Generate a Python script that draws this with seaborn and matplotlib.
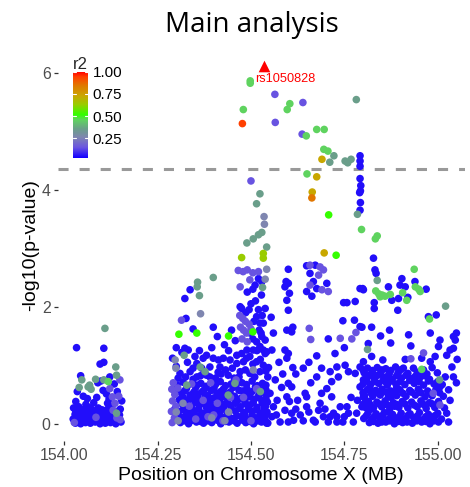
import numpy as np
import pandas as pd
import matplotlib
matplotlib.use("Agg")
import matplotlib.pyplot as plt
from matplotlib.colors import LinearSegmentedColormap, Normalize
from matplotlib.cm import ScalarMappable
import seaborn as sns

# ---------------- data (position in MB, -log10 p) grouped by LD class ----------------
r2_levels = {"blue": 0.02, "violet": 0.12, "slate": 0.24, "sage": 0.33, "lime": 0.44,
             "green": 0.50, "ygreen": 0.62, "gold": 0.72, "orange": 0.84, "redorange": 0.94}

lead_pos, lead_logp, lead_name = 154.536, 6.11, "rs1050828"
threshold = 4.35

left_blue = [(154.033,1.30),(154.106,1.29),(154.096,1.02),(154.106,1.05),(154.044,0.82),(154.098,0.73),
    (154.122,0.80),(154.134,0.68),(154.035,0.55),(154.051,0.47),(154.113,0.51),(154.116,0.35),(154.154,0.39),
    (154.031,0.38),(154.104,0.57),(154.090,0.70),(154.142,0.55),(154.120,0.42),(154.058,0.33),(154.079,0.36),
    (154.127,0.30),(154.062,0.43),(154.087,0.45),
    (154.025,0.27),(154.039,0.29),(154.052,0.24),(154.066,0.28),(154.078,0.22),(154.091,0.27),(154.104,0.23),
    (154.118,0.26),(154.139,0.21),(154.150,0.25),
    (154.029,0.16),(154.043,0.19),(154.055,0.13),(154.068,0.17),(154.081,0.14),(154.094,0.18),(154.108,0.12),
    (154.122,0.16),(154.135,0.13),(154.148,0.15),
    (154.024,0.08),(154.037,0.06),(154.050,0.09),(154.062,0.05),(154.075,0.08),(154.088,0.07),(154.101,0.04),
    (154.115,0.09),(154.128,0.06),(154.143,0.08),(154.152,0.03),
    (154.030,0.01),(154.044,0.00),(154.057,0.02),(154.070,0.01),(154.083,0.03),(154.096,0.00),(154.110,0.01),
    (154.124,0.02),(154.138,0.00),
    (154.031,0.22),(154.046,0.24),(154.060,0.20),(154.073,0.25),(154.086,0.21),(154.099,0.24),(154.112,0.19),
    (154.126,0.23),(154.145,0.19),(154.034,0.11),(154.048,0.13),(154.060,0.10),(154.072,0.12),(154.086,0.11),
    (154.098,0.13),(154.112,0.10),(154.125,0.12),(154.140,0.14)]
left_violet = [(154.149,0.75),(154.122,0.60),(154.129,0.46),(154.136,0.35),(154.131,0.23),(154.027,0.02),
    (154.150,0.07),(154.085,0.11),(154.146,0.47),(154.141,0.10)]
left_sage = [(154.109,1.63),(154.138,0.97),(154.140,0.83),(154.047,0.75),(154.040,0.62),(154.064,0.63),
    (154.072,0.59),(154.084,0.76),(154.106,0.75),(154.068,0.66),(154.140,0.18)]

mid_blue = [(154.337,2.29),(154.323,2.14),(154.326,1.80),(154.345,1.62),(154.300,1.30),(154.323,1.29),
    (154.332,1.26),(154.315,1.22),(154.350,1.15),(154.362,1.25),(154.290,1.12),(154.399,1.65),(154.410,1.49),
    (154.429,1.35),(154.448,1.60),(154.471,2.00),(154.475,1.97),(154.372,1.12),(154.381,1.17),(154.399,1.12),
    (154.413,1.09),(154.426,1.12),(154.355,1.03),(154.368,0.95),(154.390,0.97),(154.417,0.97),(154.444,1.09),
    (154.462,1.17),(154.475,1.20),(154.489,1.26),(154.506,1.26),(154.524,1.32),(154.538,1.20),(154.497,1.15),
    (154.462,1.03),(154.480,1.06),(154.515,1.06),(154.533,1.00),(154.310,0.86),(154.337,0.89),(154.381,0.83),
    (154.439,0.83),(154.471,0.89),(154.497,0.86),(154.524,0.89),(154.300,0.98),(154.355,0.80),(154.405,0.78),
    (154.420,0.85),(154.455,0.78),(154.510,0.80),
    (154.520,2.48),(154.529,2.43),(154.511,2.37),(154.515,1.83),(154.524,1.72),(154.538,1.97),(154.554,1.82),
    (154.533,1.72),(154.529,1.49),(154.538,1.43),(154.533,1.26),(154.542,1.23),(154.547,0.96),(154.556,1.26),
    (154.505,1.45),(154.495,1.95),(154.512,2.10),(154.528,2.20),(154.522,1.60),(154.515,1.40),(154.490,2.25),
    (154.505,2.30),(154.500,2.05),(154.520,1.95),(154.486,1.90),(154.530,1.85),(154.508,1.75),(154.498,1.55),
    (154.527,1.55),(154.516,1.25),
    (154.305,0.78),(154.325,0.80),(154.345,0.76),(154.365,0.82),(154.390,0.80),(154.412,0.88),(154.432,0.92),
    (154.450,0.95),(154.468,0.80),(154.485,0.92),(154.505,1.02),(154.525,1.10),(154.545,0.80),(154.330,1.05),
    (154.345,0.95),(154.395,1.30),(154.440,1.25),(154.458,1.42),(154.488,1.12),(154.540,0.90)]
mid_bottom_blue = [(154.318,0.71),(154.366,0.69),(154.418,0.72),(154.447,0.68),(154.476,0.70),(154.503,0.73),
    (154.531,0.69),(154.327,0.60),(154.352,0.62),(154.375,0.58),(154.401,0.61),(154.426,0.59),(154.452,0.62),
    (154.468,0.57),(154.489,0.60),(154.512,0.63),(154.540,0.58),(154.314,0.52),(154.337,0.49),(154.359,0.51),
    (154.384,0.48),(154.409,0.52),(154.434,0.50),(154.456,0.47),(154.493,0.51),(154.521,0.49),(154.536,0.53),
    (154.308,0.41),(154.325,0.39),(154.346,0.42),(154.368,0.38),(154.388,0.40),(154.413,0.43),(154.438,0.39),
    (154.466,0.41),(154.484,0.38),(154.509,0.42),(154.529,0.40),(154.544,0.37),(154.321,0.31),(154.340,0.28),
    (154.361,0.32),(154.380,0.29),(154.398,0.30),(154.422,0.27),(154.445,0.31),(154.471,0.29),(154.497,0.32),
    (154.516,0.28),(154.539,0.30),(154.306,0.21),(154.330,0.19),(154.349,0.22),(154.371,0.18),(154.392,0.21),
    (154.416,0.20),(154.437,0.17),(154.458,0.22),(154.481,0.19),(154.503,0.21),(154.525,0.18),(154.543,0.20),
    (154.316,0.11),(154.336,0.09),(154.357,0.12),(154.377,0.08),(154.404,0.10),(154.427,0.11),(154.449,0.09),
    (154.474,0.12),(154.491,0.08),(154.513,0.10),(154.534,0.11),(154.311,0.02),(154.333,0.00),(154.354,0.03),
    (154.373,0.01),(154.395,0.02),(154.419,0.00),(154.441,0.03),(154.463,0.01),(154.486,0.02),(154.507,0.00),
    (154.528,0.03),(154.545,0.01),
    (154.302,0.66),(154.330,0.65),(154.355,0.66),(154.380,0.64),(154.405,0.67),(154.432,0.65),(154.460,0.66),
    (154.488,0.67),(154.517,0.65),(154.540,0.66),(154.300,0.55),(154.322,0.56),(154.347,0.54),(154.370,0.55),
    (154.394,0.57),(154.419,0.55),(154.444,0.54),(154.478,0.56),(154.503,0.55),(154.528,0.57),(154.318,0.45),
    (154.336,0.44),(154.357,0.46),(154.377,0.45),(154.400,0.44),(154.426,0.46),(154.451,0.45),(154.474,0.44),
    (154.497,0.46),(154.520,0.45),(154.540,0.44),(154.313,0.35),(154.332,0.34),(154.352,0.36),(154.372,0.35),
    (154.392,0.34),(154.418,0.36),(154.430,0.33),(154.458,0.35),(154.484,0.34),(154.506,0.36),(154.530,0.35),
    (154.296,0.25),(154.318,0.24),(154.341,0.26),(154.360,0.25),(154.383,0.24),(154.405,0.26),(154.427,0.25),
    (154.448,0.24),(154.470,0.26),(154.493,0.25),(154.515,0.24),(154.535,0.26),(154.305,0.15),(154.326,0.14),
    (154.345,0.16),(154.366,0.15),(154.388,0.14),(154.415,0.16),(154.438,0.15),(154.462,0.14),(154.483,0.16),
    (154.503,0.15),(154.524,0.14),(154.542,0.16),(154.322,0.05),(154.344,0.06),(154.365,0.04),(154.385,0.05),
    (154.410,0.06),(154.432,0.04),(154.455,0.05),(154.478,0.06),(154.497,0.04),(154.518,0.05),(154.538,0.06)]
mid_violet = [(154.292,0.70),(154.341,0.68),(154.392,0.70),(154.288,0.59),(154.304,0.61),(154.296,0.50),
    (154.290,0.39),(154.299,0.30),(154.287,0.21),(154.295,0.10),(154.289,0.02),(154.400,0.15),(154.425,0.05),
    (154.410,0.35),(154.385,0.12),(154.445,0.45),(154.460,0.75),(154.480,0.45),(154.500,0.05),(154.515,0.60),
    (154.335,0.30),(154.352,0.08),(154.372,0.40),
    (154.466,2.62),(154.479,2.60),(154.490,2.63),(154.505,2.58),(154.520,2.60),(154.497,2.46),(154.471,2.34),
    (154.470,1.85),(154.478,1.80),(154.485,1.75),(154.472,1.65),(154.480,1.60),(154.488,1.55),(154.476,1.45),
    (154.490,1.40),(154.495,1.70),(154.500,1.62),(154.314,1.77)]
mid_slate = [(154.297,1.09),(154.299,0.95),(154.506,0.92),(154.300,0.20),(154.305,0.05),(154.318,0.35),
    (154.395,0.10),(154.430,0.05),(154.440,0.20),(154.535,3.54),(154.536,3.41),(154.542,2.64),(154.538,2.47),
    (154.365,1.88)]

east_blue = [(154.600,2.64),(154.594,2.43),(154.600,2.40),(154.591,2.34),(154.603,2.23),(154.596,2.11),
    (154.600,1.94),(154.596,1.60),(154.612,1.65),(154.609,1.57),(154.591,1.26),(154.600,1.20),(154.596,1.12),
    (154.612,0.96),(154.560,1.55),(154.575,1.05),(154.585,0.85),(154.565,0.75),(154.620,0.85),
    (154.649,2.70),(154.672,2.71),(154.658,2.57),(154.667,2.43),(154.676,2.31),(154.703,2.40),(154.649,2.26),
    (154.663,2.18),(154.676,1.16),(154.707,1.45),(154.748,2.07),(154.757,2.07),(154.746,1.76),(154.777,1.77),
    (154.792,1.66),(154.779,2.09),(154.640,0.95),(154.655,1.05),(154.725,1.20),(154.750,1.30),
    (154.792,4.58),(154.792,4.49),(154.792,4.40),(154.792,4.19),(154.794,4.07),(154.793,3.98),(154.791,3.95),
    (154.793,3.78),(154.792,3.65),(154.828,2.83),(154.832,2.63),(154.835,2.57),(154.799,2.31),(154.792,2.31),
    (154.830,2.07),(154.830,1.97),(154.801,2.29),
    (154.689,0.95),(154.712,0.89),(154.730,0.97),(154.752,1.00),(154.761,0.89),(154.734,0.80),(154.716,0.72),
    (154.703,0.60),(154.689,0.52),(154.685,0.35),(154.681,0.23),(154.716,0.46),(154.739,0.29),(154.730,0.12),
    (154.757,0.29),(154.761,0.18),(154.730,0.03),(154.694,0.12),(154.672,0.03),(154.649,0.46),(154.645,0.52),
    (154.667,0.06),(154.707,0.03),(154.774,0.03),(154.792,0.63),(154.801,0.46),(154.797,0.29),(154.783,0.18),
    (154.779,0.86),(154.792,0.97),(154.801,0.75),(154.746,0.03),(154.721,0.18),(154.649,0.29),(154.600,0.69),
    (154.609,0.63),(154.596,0.46),(154.603,0.38),(154.591,0.23),(154.609,0.18),(154.578,0.03),(154.600,0.03),
    (154.614,0.06),(154.551,0.52),(154.538,0.35),(154.529,0.18),(154.556,0.12),(154.542,0.01),(154.560,0.29),
    (154.570,0.40),(154.582,0.62),(154.625,0.40),(154.632,0.15),(154.640,0.05),(154.655,0.20),(154.660,0.70),
    (154.676,0.80),(154.698,0.25),(154.712,0.12),(154.750,0.12),(154.768,0.45),(154.785,0.40),(154.620,0.25),
    (154.568,0.15)]
east_violet = [(154.658,2.71),(154.685,2.68),(154.694,2.63),(154.681,2.54),(154.658,2.37),(154.690,2.29),
    (154.707,2.26),(154.656,1.63),(154.660,1.44),(154.739,1.46),(154.770,1.45),(154.781,1.56),
    (154.564,5.63),(154.565,5.15),(154.639,5.49),(154.637,4.95),(154.500,4.15)]

far_blue = [(154.904,2.48),(154.939,2.43),(154.899,2.37),(154.913,2.34),(154.868,2.34),(154.877,2.11),
    (154.895,2.14),(154.920,2.16),(154.969,2.30),(154.893,1.94),(154.975,1.83),(154.996,1.86),(154.797,1.65),
    (154.823,1.65),(154.871,1.60),(154.847,1.50),(154.874,1.38),(154.922,1.52),(154.928,1.33),(154.980,1.55),
    (155.006,1.43),(155.042,1.49),(155.047,1.43),(155.033,1.26),(155.042,1.29),(155.002,1.32),(155.024,1.17),
    (154.993,1.15),(154.980,1.06),(154.957,1.12),(154.913,1.10),(154.814,1.37),(154.823,1.15),(154.801,1.06),
    (154.853,1.09),(154.908,0.95),(154.962,0.92),(155.038,0.97),(155.042,0.80),(155.020,0.80),(155.006,0.63),
    (155.029,0.58),(155.033,0.40),(155.024,0.18),(155.002,0.03),(155.029,0.03),(155.050,1.55),(155.052,1.10),
    (155.050,0.70),
    (154.812,0.95),(154.838,0.96),(154.861,0.94),(154.887,0.97),(154.935,0.95),(154.985,0.96),
    (154.803,0.87),(154.825,0.86),(154.848,0.88),(154.870,0.85),(154.894,0.87),(154.920,0.86),(154.945,0.88),
    (154.971,0.85),(154.999,0.87),(154.808,0.78),(154.830,0.77),(154.856,0.79),(154.878,0.76),(154.903,0.78),
    (154.930,0.77),(154.952,0.79),(154.978,0.76),(154.800,0.68),(154.820,0.67),(154.842,0.69),(154.865,0.66),
    (154.888,0.68),(154.912,0.67),(154.937,0.69),(154.962,0.66),(154.990,0.68),(155.012,0.67),(154.811,0.58),
    (154.834,0.57),(154.851,0.59),(154.874,0.56),(154.899,0.58),(154.925,0.57),(154.948,0.59),(154.973,0.56),
    (154.995,0.58),(154.804,0.48),(154.826,0.47),(154.846,0.49),(154.868,0.46),(154.890,0.48),(154.915,0.47),
    (154.940,0.49),(154.966,0.46),(154.985,0.48),(155.015,0.47),(154.815,0.38),(154.837,0.37),(154.859,0.39),
    (154.881,0.36),(154.905,0.38),(154.930,0.37),(154.955,0.39),(154.978,0.36),(155.002,0.38),(154.806,0.28),
    (154.828,0.27),(154.850,0.29),(154.872,0.26),(154.896,0.28),(154.920,0.27),(154.945,0.29),(154.969,0.26),
    (154.992,0.28),(155.018,0.27),(154.813,0.18),(154.835,0.17),(154.857,0.19),(154.879,0.16),(154.902,0.18),
    (154.926,0.17),(154.951,0.19),(154.975,0.16),(155.000,0.18),(154.802,0.09),(154.824,0.08),(154.846,0.10),
    (154.866,0.07),(154.888,0.09),(154.911,0.08),(154.936,0.10),(154.960,0.07),(154.984,0.09),(155.010,0.08),
    (154.817,0.02),(154.840,0.01),(154.861,0.03),(154.884,0.00),(154.906,0.02),(154.932,0.01),(154.957,0.03),
    (154.979,0.00),(154.818,0.62),(154.842,0.52),(154.860,0.72),(154.828,0.82),(154.853,0.33),(154.875,0.45),
    (154.822,0.25),(154.845,0.12),(154.869,0.20),(154.890,0.62),(154.807,0.40),(154.885,0.30),
    (154.800,0.92),(154.825,0.91),(154.850,0.92),(154.874,0.91),(154.900,0.92),(154.960,0.88),
    (154.815,0.82),(154.840,0.83),(154.866,0.81),(154.890,0.82),(154.915,0.83),(154.940,0.81),(154.965,0.82),
    (154.810,0.73),(154.832,0.72),(154.854,0.74),(154.876,0.73),(154.900,0.72),(154.925,0.74),(154.950,0.72),
    (154.975,0.73),(155.000,0.72),(154.800,0.53),(154.822,0.52),(154.862,0.54),(154.885,0.53),(154.907,0.52),
    (154.930,0.54),(154.955,0.53),(154.980,0.52),(155.005,0.53),(154.800,0.33),(154.820,0.32),(154.842,0.34),
    (154.865,0.32),(154.890,0.33),(154.912,0.34),(154.937,0.32),(154.962,0.33),(154.985,0.34),(154.808,0.13),
    (154.830,0.12),(154.852,0.14),(154.875,0.13),(154.897,0.12),(154.920,0.14),(154.945,0.13),(154.968,0.12),
    (154.993,0.14),(154.828,0.04),(154.850,0.03),(154.872,0.05),(154.895,0.04),(154.918,0.03),(154.944,0.05),
    (154.968,0.04),(154.990,0.05)]
far_violet = [(154.962,1.21),(154.928,1.11),(154.988,0.52),(155.006,0.32)]

sage_pts = [(154.782,5.54),(154.722,4.58),(154.711,4.47),(154.752,4.49),(154.759,4.46),(154.768,4.52),
    (154.524,3.93),(154.515,3.76),(154.529,3.27),(154.520,3.23),(154.506,3.16),(154.489,3.09),(154.542,3.02),
    (154.785,3.58),(154.531,2.33),(154.399,2.50),(154.357,2.42),(154.356,2.34),(154.362,2.19),(154.838,2.45),
    (155.021,2.01),(154.321,1.17),(154.364,0.97),(154.377,0.89),(154.328,0.66),(154.439,0.49),(154.457,0.69),
    (155.005,0.75),(154.812,1.27),(154.525,0.55)]
lime_pts = [(154.498,5.86),(154.498,5.82),(154.4795,5.37),(154.604,5.47),(154.597,5.37),(154.648,4.92),
    (154.676,5.03),(154.696,5.03),(154.695,4.69),(154.706,4.66),(154.650,4.27),(154.796,3.32),(154.833,3.16),
    (154.838,3.21),(154.940,2.34),(154.949,2.30),(154.953,2.26),(154.906,2.24),(154.917,2.11),(154.834,2.27),
    (154.846,2.17),(154.859,2.18),(154.873,2.21),(154.937,2.64),(154.978,1.79),(154.851,2.20),(154.842,2.22),
    (154.118,0.72),(154.957,0.93)]
green_pts = [(154.708,3.57),(154.728,2.88),(154.307,1.53),(154.355,1.55),(154.440,1.50),(154.505,1.57)]
ygreen_pts = [(154.533,2.91),(154.533,2.83),(154.475,2.84)]
gold_pts = [(154.690,4.52),(154.676,4.22),(154.664,3.96),(154.696,2.92)]
orange_pts = [(154.663,3.86)]
redorange_pts = [(154.477,5.13)]

groups = [
    ("blue", left_blue + mid_blue + mid_bottom_blue + east_blue + far_blue),
    ("violet", left_violet + mid_violet + east_violet + far_violet),
    ("slate", mid_slate),
    ("sage", left_sage + sage_pts),
    ("lime", lime_pts),
    ("green", green_pts),
    ("ygreen", ygreen_pts),
    ("gold", gold_pts),
    ("orange", orange_pts),
    ("redorange", redorange_pts),
]
rows = []
for name, pts in groups:
    for p, lp in pts:
        rows.append((p, lp, r2_levels[name]))
df = pd.DataFrame(rows, columns=["pos", "logp", "r2"]).sort_values("r2", kind="stable")

x_ticks = [154.00, 154.25, 154.50, 154.75, 155.00]
x_tick_labels = ["154.00", "154.25", "154.50", "154.75", "155.00"]
y_ticks = [0, 2, 4, 6]
cbar_ticks = [0.25, 0.50, 0.75, 1.00]

# ---------------- style ----------------
sns.set_theme(style="white")
plt.rcParams["font.family"] = ["Liberation Sans", "DejaVu Sans"]

cmap = LinearSegmentedColormap.from_list("ld", [
    (0.0, "#1400ff"), (0.12, "#6a55e0"), (0.24, "#7f86b0"), (0.33, "#6a9e8a"),
    (0.44, "#5fd35f"), (0.50, "#33ff00"), (0.62, "#99cc00"), (0.72, "#c8a800"),
    (0.84, "#e07800"), (0.94, "#ff4000"), (1.0, "#ff0000")])
norm = Normalize(0, 1)

fig = plt.figure(figsize=(4.70, 4.87), dpi=100)
ax = fig.add_axes([57.5 / 470, (487 - 441.3) / 487, (465 - 57.5) / 470, 392.6 / 487])

ax.axhline(threshold, color="#999999", lw=2.2, ls=(0, (3.3, 3.6)), zorder=1)
sns.scatterplot(data=df, x="pos", y="logp", hue="r2", palette=cmap, hue_norm=norm,
                s=30, linewidth=0, legend=False, ax=ax, zorder=2)
ax.scatter([lead_pos], [lead_logp], marker="^", s=70, color="#ff0000", linewidths=0, zorder=3)
ax.text(lead_pos - 0.025, lead_logp - 0.21, lead_name, color="#ff0000", fontsize=9.2,
        ha="left", va="center", zorder=4)

ax.set_xlim(153.982, 155.073)
ax.set_ylim(-0.3, 6.41)
ax.set_xticks(x_ticks)
ax.set_xticklabels(x_tick_labels)
ax.set_yticks(y_ticks)
sns.despine(ax=ax, left=True, bottom=True, top=True, right=True)
ax.tick_params(axis="both", which="both", length=3, width=0.9, color="#333333",
               labelcolor="#4d4d4d", labelsize=11.4, pad=2, left=True, bottom=True)
ax.set_xlabel("Position on Chromosome X (MB)", fontsize=14, color="black", labelpad=3)
ax.set_ylabel("-log10(p-value)", fontsize=14, color="black", labelpad=2)
ax.grid(False)

fig.text(252 / 470, 1 - 32 / 487, "Main analysis", fontsize=20, family="Open Sans",
         ha="center", va="baseline", color="black")

# colour bar legend inside the panel
cax = fig.add_axes([73.3 / 470, (487 - 157.7) / 487, 15 / 470, 86 / 487])
sm = ScalarMappable(norm=Normalize(0.03, 1.0), cmap=cmap)
cb = fig.colorbar(sm, cax=cax, ticks=cbar_ticks)
cb.outline.set_visible(False)
cb.ax.set_yticklabels([f"{t:.2f}" for t in cbar_ticks])
cb.ax.tick_params(length=0, labelsize=11, labelcolor="black", pad=3)
for t in cbar_ticks:
    cax.plot([0, 0.2], [t, t], color="white", lw=0.8, transform=cax.get_yaxis_transform())
    cax.plot([0.8, 1.0], [t, t], color="white", lw=0.8, transform=cax.get_yaxis_transform())
cax.set_title("r2", fontsize=12, pad=2, loc="left", x=-0.05)

fig.savefig("out.png", dpi=100)
